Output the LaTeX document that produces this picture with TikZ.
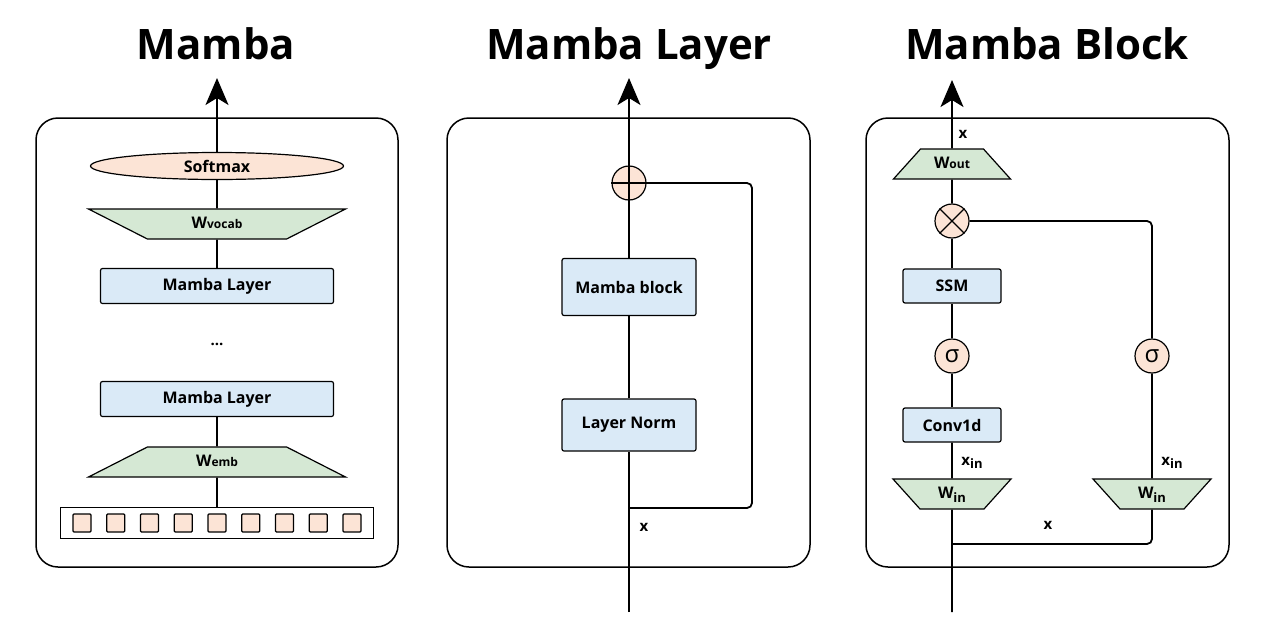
\documentclass[tikz,border=0pt]{standalone}
\usepackage{fontspec}
\setmainfont{Open Sans}
\usetikzlibrary{arrows.meta,shapes.geometric}

\definecolor{blockblue}{RGB}{218,234,247}
\definecolor{projgreen}{RGB}{213,232,212}
\definecolor{oppeach}{RGB}{252,228,214}

\tikzset{
  frame/.style={draw, line width=1.5pt, rounded corners=22pt},
  wire/.style={line width=1.8pt},
  flow/.style={wire, -{Stealth[length=27pt,width=23pt,inset=7pt]}},
  blk/.style={draw, fill=blockblue, line width=1.2pt, rounded corners=2pt, inner sep=0pt,
    font=\bfseries\fontsize{16}{19}\selectfont},
  proj/.style={trapezium, draw, fill=projgreen, line width=1.2pt, inner xsep=0pt, inner ysep=8pt,
    text height=11pt, text depth=3pt, trapezium stretches body,
    font=\bfseries\fontsize{16}{19}\selectfont},
  op/.style={circle, draw, fill=oppeach, line width=1.2pt, minimum size=34pt, inner sep=0pt,
    font=\fontsize{24}{26}\selectfont},
  lbl/.style={font=\bfseries\fontsize{15}{17}\selectfont, inner sep=0pt},
  title/.style={font=\bfseries\fontsize{42}{48}\selectfont, inner sep=0pt, anchor=base}
}
\newcommand{\smallsub}[1]{{\fontsize{12}{14}\selectfont #1}}
\newcommand{\lowsub}[1]{\raisebox{-0.25em}{\fontsize{13}{15}\selectfont #1}}

\begin{document}
\begin{tikzpicture}[x=1pt,y=1pt,yscale=-1]
  \useasboundingbox (0,0) rectangle (1264,632);

  % Titles
  \node[title] (tmamba) at (216,59) {Mamba};
  \node[title] (tlayer) at (629,59) {Mamba Layer};
  \node[title] (tblock) at (1047,59) {Mamba Block};

  % Frames
  \draw[frame] (36,118) rectangle (398,567);
  \draw[frame] (447,118) rectangle (810,567);
  \draw[frame] (866,118) rectangle (1229,567);

  %%%% Mamba
  \node[draw, fill=white, line width=1.2pt, minimum width=313pt, minimum height=31pt, inner sep=0pt] (tokens) at (217,523) {};
  \foreach \i in {0,...,8}
    \node[draw, fill=oppeach, line width=1.2pt, rounded corners=1pt, minimum size=18pt, inner sep=0pt] (t\i) at (82+33.75*\i,523) {};
  \node[proj, trapezium angle=27, minimum width=257pt] (wemb) at (217,462) {W\smallsub{emb}};
  \node[blk, minimum width=233pt, minimum height=35pt] (layer2) at (217,399) {Mamba Layer};
  \node[font=\bfseries\fontsize{15}{17}\selectfont] (dots) at (217,344) {...};
  \node[blk, minimum width=233pt, minimum height=35pt] (layer1) at (217,286) {Mamba Layer};
  \node[proj, shape border rotate=180, trapezium angle=27, minimum width=257pt] (wvocab) at (217,224) {W\smallsub{vocab}};
  \node[ellipse, draw, fill=oppeach, line width=1.2pt, minimum width=253pt, minimum height=27pt, inner sep=0pt,
    font=\bfseries\fontsize{16}{19}\selectfont] (softmax) at (217,166) {Softmax};
  \coordinate (outa) at (217,78);

  \draw[wire] (tokens.north) -- (wemb.south);
  \draw[wire] (wemb.north) -- (layer2.south);
  \draw[wire] (layer1.north) -- (wvocab.south);
  \draw[wire] (wvocab.north) -- (softmax.south);
  \draw[flow] (softmax.north) -- (outa);

  %%%% Mamba Layer
  \coordinate (ina) at (629,612);
  \coordinate (split) at (629,508);
  \node[blk, minimum width=134pt, minimum height=52pt] (norm) at (629,425) {Layer Norm};
  \node[blk, minimum width=134pt, minimum height=57pt] (mblock) at (629,287) {Mamba block};
  \node[op] (plus) at (629,183) {};
  \draw[line width=1.2pt] (plus.north) -- (plus.south) (plus.west) -- (plus.east);
  \coordinate (outb) at (629,78);
  \node[lbl] (xa) at (644,527) {x};

  \draw[wire] (ina) -- (norm.south);
  \draw[wire] (norm.north) -- (mblock.south);
  \draw[wire] (mblock.north) -- (plus.south);
  \draw[flow] (plus.north) -- (outb);
  \draw[wire, rounded corners=5pt] (split) -- (752,508) |- (plus.east);

  %%%% Mamba Block
  \coordinate (inc) at (952,612);
  \coordinate (fork) at (952,544);
  \node[proj, shape border rotate=180, trapezium angle=48, minimum width=118pt] (winl) at (952,494) {W\lowsub{in}};
  \node[proj, shape border rotate=180, trapezium angle=48, minimum width=118pt] (winr) at (1152,494) {W\lowsub{in}};
  \node[blk, minimum width=98pt, minimum height=34pt] (conv) at (952,425) {Conv1d};
  \node[op] (sigl) at (952,356) {σ};
  \node[op] (sigr) at (1152,356) {σ};
  \node[blk, minimum width=98pt, minimum height=34pt] (ssm) at (952,286) {SSM};
  \node[op] (mul) at (952,221) {};
  \draw[line width=1.2pt] (mul.north west) -- (mul.south east) (mul.north east) -- (mul.south west);
  \node[proj, trapezium angle=48, minimum width=117pt] (wout) at (952,164) {W\smallsub{out}};
  \coordinate (outc) at (952,80);
  \node[lbl] (xb) at (963,134) {x};
  \node[lbl] (xinl) at (972,463) {x\lowsub{in}};
  \node[lbl] (xinr) at (1172,463) {x\lowsub{in}};
  \node[lbl] (xc) at (1048,525) {x};

  \draw[wire] (inc) -- (winl.south);
  \draw[wire] (winl.north) -- (conv.south);
  \draw[wire] (conv.north) -- (sigl.south);
  \draw[wire] (sigl.north) -- (ssm.south);
  \draw[wire] (ssm.north) -- (mul.south);
  \draw[wire] (mul.north) -- (wout.south);
  \draw[flow] (wout.north) -- (outc);
  \draw[wire, rounded corners=5pt] (fork) -| (winr.south);
  \draw[wire] (winr.north) -- (sigr.south);
  \draw[wire, rounded corners=5pt] (sigr.north) |- (mul.east);
\end{tikzpicture}
\end{document}
